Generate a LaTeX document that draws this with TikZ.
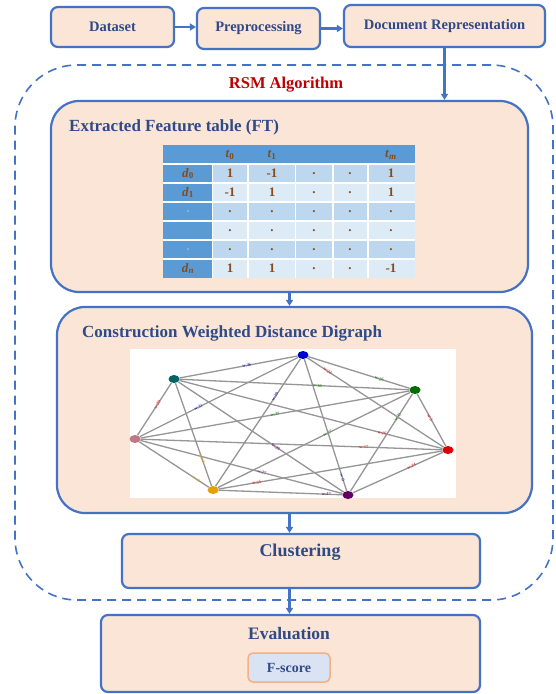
\documentclass[tikz,border=0pt]{standalone}
\usepackage{fontspec}
\setmainfont{Liberation Serif}
\usetikzlibrary{arrows.meta,shapes.geometric}

\definecolor{boxblue}{RGB}{68,114,196}
\definecolor{peach}{RGB}{251,229,214}
\definecolor{titleblue}{RGB}{47,74,135}
\definecolor{rsmred}{RGB}{192,0,0}
\definecolor{hdrblue}{RGB}{91,155,213}
\definecolor{rowdark}{RGB}{189,215,238}
\definecolor{rowlight}{RGB}{221,235,247}
\definecolor{cellbrown}{RGB}{133,75,30}
\definecolor{dotblue}{RGB}{150,180,215}
\definecolor{edgegray}{RGB}{150,150,150}
\definecolor{fsblue}{RGB}{218,227,243}
\definecolor{fsorange}{RGB}{244,177,131}
\definecolor{cblue}{RGB}{0,0,205}
\definecolor{cteal}{RGB}{0,100,100}
\definecolor{cgreen}{RGB}{0,110,0}
\definecolor{cpink}{RGB}{190,120,135}
\definecolor{cred}{RGB}{225,0,0}
\definecolor{corange}{RGB}{230,160,0}
\definecolor{cpurple}{RGB}{100,0,100}

\newcommand{\ts}[2]{\textit{#1}\textsubscript{#2}}

\begin{document}
\begin{tikzpicture}[x=1pt,y=-1pt,
  box/.style={draw=boxblue,line width=2.2pt,fill=peach,rounded corners=7,inner sep=0},
  bigbox/.style={draw=boxblue,line width=2.2pt,fill=peach,rounded corners=28,inner sep=0},
  boxtext/.style={text=titleblue,font=\bfseries\fontsize{14.5}{17}\selectfont,inner sep=0},
  flow/.style={draw=boxblue,line width=2.4pt,-{Triangle[length=6pt,width=7pt]}},
  cell/.style={text=cellbrown,font=\bfseries\fontsize{13}{13}\selectfont,inner sep=0},
  vertex/.style={ellipse,minimum width=11,minimum height=8,inner sep=0},
  gedge/.style={draw=edgegray,line width=1.3pt},
  wlab/.style={font=\fontsize{4.5}{4.5}\selectfont,inner sep=0.5pt,sloped}]

\useasboundingbox[fill=white] (0,0) rectangle (555,694);

\node[draw=boxblue,line width=1.6pt,dash pattern=on 9pt off 6pt,rounded corners=62,
  minimum width=538,minimum height=535] (rsm) at (284,332.5) {};

\node[box,boxtext,minimum width=123,minimum height=40] (dataset) at (112.5,27) {Dataset};
\node[box,boxtext,minimum width=123,minimum height=41] (preproc) at (258.5,28.5) {Preprocessing};
\node[box,boxtext,minimum width=201,minimum height=42] (docrep) at (444.5,26) {Document Representation};

\node[text=rsmred,font=\bfseries\fontsize{16.5}{18}\selectfont] (rsmtitle) at (286,85) {RSM Algorithm};

\node[bigbox,minimum width=477,minimum height=191] (ft) at (289.5,196.5) {};
\node[boxtext,font=\bfseries\fontsize{17}{19}\selectfont,anchor=west] (fttitle) at (69,127) {Extracted Feature table (FT)};

\fill[hdrblue] (163,145) rectangle (415,164);
\fill[hdrblue] (163,164) rectangle (212.5,278);
\foreach \r/\c in {0/rowdark,1/rowlight,2/rowdark,3/rowlight,4/rowdark,5/rowlight}
  \fill[\c] (212.5,164+19*\r) rectangle (415,183+19*\r);
\foreach \y in {164,183,...,259}
  \draw[white,line width=1.5pt] (163,\y) -- (415,\y);
\foreach \x in {212.5,248,295.5,333,368}
  \draw[white,line width=1.5pt] (\x,164) -- (\x,278);

\node[cell] (t0) at (230,155) {\ts{t}{0}};
\node[cell] (t1) at (272,155) {\ts{t}{1}};
\node[cell] (tm) at (391,155) {\ts{t}{\textit{m}}};
\foreach \lab [count=\r] in {\ts{d}{0},\ts{d}{1},\textcolor{dotblue}{.},{},\textcolor{dotblue}{.},\ts{d}{\textit{n}}}
  \node[cell] (d\r) at (188,154.5+19*\r) {\lab};
\foreach \vals [count=\r] in {{1,-1,.,.,1},{-1,1,.,.,1},{.,.,.,.,.},{.,.,.,.,.},{.,.,.,.,.},{1,1,.,.,-1}}{
  \foreach \v [count=\c] in \vals {
    \pgfmathsetmacro\cx{{230,272,314,350,391}[\c-1]}
    \node[cell] (v\r\c) at (\cx,154.5+19*\r) {\v};
  }
}

\node[bigbox,minimum width=475,minimum height=206] (cwdd) at (294.5,410) {};
\node[boxtext,font=\bfseries\fontsize{17}{19}\selectfont,anchor=west] (cwddtitle) at (82,333) {Construction Weighted Distance Digraph};
\node[fill=white,minimum width=326,minimum height=149,inner sep=0] (panel) at (293,423.5) {};

\node[vertex,fill=cblue] (vblue) at (303,355) {};
\node[vertex,fill=cteal] (vteal) at (174,379) {};
\node[vertex,fill=cgreen] (vgreen) at (415,390) {};
\node[vertex,fill=cpink] (vpink) at (135,439) {};
\node[vertex,fill=cred] (vred) at (448,450) {};
\node[vertex,fill=corange] (vorange) at (213,490) {};
\node[vertex,fill=cpurple] (vpurple) at (348,495) {};

\foreach \a/\b/\w/\col/\p in {vteal/vblue/36/cblue/0.57,vblue/vred/22/cred/0.15,vblue/vgreen/26/cgreen/0.7,
    vteal/vgreen/36/cgreen/0.6,vpink/vblue/31/cblue/0.37,vblue/vorange/39/cblue/0.3,
    vpink/vgreen/37/cgreen/0.5,vorange/vgreen/27/cgreen/0.57,vpurple/vgreen/15/cgreen/0.76,
    vgreen/vred/5/cred/0.45,vteal/vred/16/cred/0.77,vpink/vred/17/cred/0.74,
    vteal/vpurple/29/cpurple/0.59,vpink/vpurple/27/cpurple/0.6,vorange/vred/35/cred/0.17,
    vpurple/vred/24/cred/0.65,vblue/vpurple/9/cblue/0.9,vorange/vpurple/47/cpurple/0.87,
    vteal/vorange/17/corange/0.74,vpink/vorange/8/corange/0.83,vpink/vteal/20/cred/0.58}
  \draw[gedge] (\a) to node[wlab,text=\col,pos=\p] {w:\w} (\b);

\node[box,minimum width=358,minimum height=54] (clust) at (301,561) {};
\node[boxtext,font=\bfseries\fontsize{18}{20}\selectfont] (clusttext) at (300,552) {Clustering};

\node[box,minimum width=379,minimum height=77] (eval) at (290.5,653.5) {};
\node[boxtext,font=\bfseries\fontsize{17.5}{20}\selectfont] (evaltext) at (289,634) {Evaluation};
\node[draw=fsorange,line width=1.5pt,fill=fsblue,rounded corners=5,minimum width=82,minimum height=29,
  boxtext,font=\bfseries\fontsize{14}{16}\selectfont] (fscore) at (289,667.5) {F-score};

\draw[flow] (dataset.east) to (dataset.east -| preproc.west);
\draw[flow] (preproc.east) to (preproc.east -| docrep.west);
\draw[flow] (docrep.south) to (docrep.south |- ft.north);
\draw[flow] (ft.south) to (ft.south |- cwdd.north);
\draw[flow] (ft.south |- cwdd.south) to (ft.south |- clust.north);
\draw[flow] (ft.south |- clust.south) to (ft.south |- eval.north);
\end{tikzpicture}
\end{document}
